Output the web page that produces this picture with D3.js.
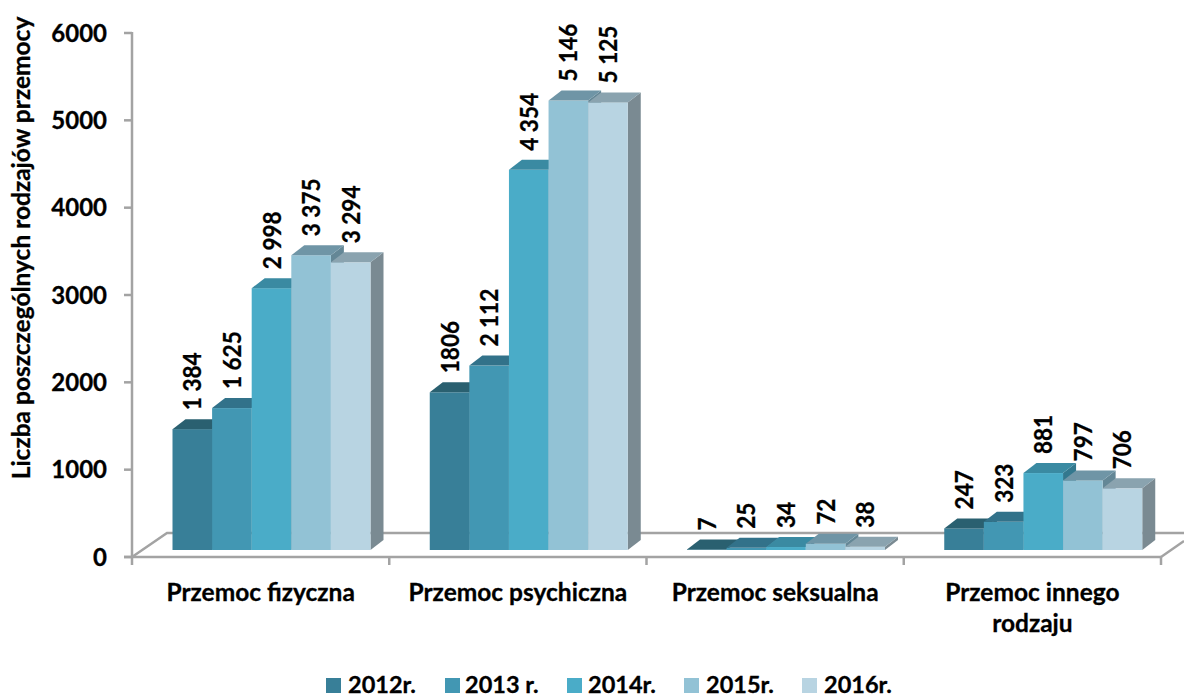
<!DOCTYPE html>
<html><head><meta charset="utf-8">
<script src="https://cdnjs.cloudflare.com/ajax/libs/d3/7.8.5/d3.min.js"></script>
<style>html,body{margin:0;padding:0;background:#fff}svg{display:block}text{font-family:Lato,Carlito,sans-serif;font-weight:700;fill:#000;stroke:#000;stroke-width:.3px}</style>
</head><body><svg id="c" width="1184" height="695"></svg>
<script>
const categories=["Przemoc fizyczna","Przemoc psychiczna","Przemoc seksualna","Przemoc innego rodzaju"];
const categoryLines=[["Przemoc fizyczna"],["Przemoc psychiczna"],["Przemoc seksualna"],["Przemoc innego","rodzaju"]];
const years=["2012r.","2013 r.","2014r.","2015r.","2016r."];
const v2012=[1384,1806,7,247];
const v2013=[1625,2112,25,323];
const v2014=[2998,4354,34,881];
const v2015=[3375,5146,72,797];
const v2016=[3294,5125,38,706];
const labels2012=["1 384","1806","7","247"];
const labels2013=["1 625","2 112","25","323"];
const labels2014=["2 998","4 354","34","881"];
const labels2015=["3 375","5 146","72","797"];
const labels2016=["3 294","5 125","38","706"];
const yTicks=[0,1000,2000,3000,4000,5000,6000];
const frontColors=["#387f98","#4297b3","#4aacc8","#92c2d5","#b8d4e2"];
const topColors=["#2a6070","#32728a","#3a8aa2","#6f95a6","#8aa3af"];
const sideColors=["#2a6070","#2f6d80","#33788e","#648796","#7a8a92"];
const legendX=[326,445,567,684,802];
const legendTextX=[348,465,588,706,824];

const series=[v2012,v2013,v2014,v2015,v2016];
const seriesLabels=[labels2012,labels2013,labels2014,labels2015,labels2016];
const svg=d3.select("#c");
const axisColor="#a3a3a3";
const left=132,right=1161,zeroY=557,topY=33;
const dx=13,dy=10,floorLift=7;
const y=d3.scaleLinear().domain([0,6000]).range([zeroY,topY]);
const x0=d3.scaleBand().domain(categories).range([left,right]);
const x1=d3.scaleBand().domain(years).range([40.5,238.5]);

const floor=svg.append("g").attr("fill","none").attr("stroke",axisColor).attr("stroke-width",2.5);
floor.append("path").attr("d",`M${left},${zeroY}L${left+35},${zeroY-24}L1184,${zeroY-24}`);
floor.append("path").attr("d",`M${right},${zeroY}L1184,${zeroY-16}`);

const axes=svg.append("g").attr("stroke",axisColor).attr("stroke-width",2.5);
axes.append("line").attr("x1",left).attr("x2",left).attr("y1",topY-1).attr("y2",zeroY+1);
axes.append("line").attr("x1",left-8).attr("x2",right).attr("y1",zeroY).attr("y2",zeroY);
axes.selectAll(".yt").data(yTicks).join("line").attr("x1",left-8).attr("x2",left).attr("y1",d=>y(d)).attr("y2",d=>y(d));
axes.selectAll(".xt").data(d3.range(5)).join("line")
  .attr("x1",i=>left+i*x0.step()).attr("x2",i=>left+i*x0.step()).attr("y1",zeroY).attr("y2",zeroY+8);

svg.append("g").selectAll("text").data(yTicks).join("text")
  .attr("x",107).attr("y",d=>y(d)+8.5).attr("text-anchor","end").attr("font-size",24).text(d=>d);

const bars=svg.append("g");
categories.forEach((cat,c)=>{
  years.forEach((yr,s)=>{
    const v=series[s][c];
    const xl=x0(cat)+x1(yr), w=x1.bandwidth(), xr=xl+w;
    const yt=y(v)-floorLift, yb=y(0)-floorLift;
    const g=bars.append("g");
    g.append("path").attr("fill",sideColors[s])
      .attr("d",`M${xr},${yt}L${xr+dx},${yt-dy}L${xr+dx},${yb-dy}L${xr},${yb}Z`);
    g.append("rect").attr("x",xl).attr("y",yt).attr("width",w).attr("height",Math.max(yb-yt,0)).attr("fill",frontColors[s]);
    g.append("path").attr("fill",topColors[s])
      .attr("d",`M${xl},${yt}L${xl+dx},${yt-dy}L${xr+dx},${yt-dy}L${xr},${yt}Z`);
  });
});

categories.forEach((cat,c)=>{
  years.forEach((yr,s)=>{
    const cx=x0(cat)+x1(yr)+x1.bandwidth()/2+0.5, yl=y(series[s][c])-floorLift-19;
    svg.append("text").attr("transform",`translate(${cx+8.5},${yl}) rotate(-90) scale(.94,1)`)
      .attr("font-size",24).text(seriesLabels[s][c]);
  });
});

categories.forEach((cat,c)=>{
  categoryLines[c].forEach((t,i)=>{
    svg.append("text").attr("x",x0(cat)+x0.bandwidth()/2).attr("y",600.5+i*31)
      .attr("text-anchor","middle").attr("font-size",24.5).text(t);
  });
});

svg.append("text").attr("transform","translate(30,248) rotate(-90)")
  .attr("text-anchor","middle").attr("font-size",24.5).text("Liczba poszczególnych rodzajów przemocy");

years.forEach((yr,s)=>{
  svg.append("rect").attr("x",legendX[s]).attr("y",678).attr("width",15).attr("height",15).attr("fill",frontColors[s]);
  svg.append("text").attr("x",legendTextX[s]).attr("y",693).attr("font-size",23.5).text(yr);
});
</script></body></html>
